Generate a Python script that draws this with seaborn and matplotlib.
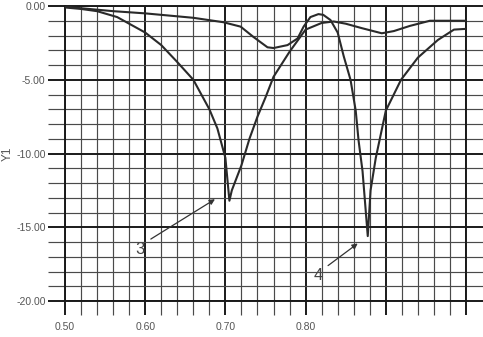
import matplotlib
matplotlib.use("Agg")
import matplotlib.pyplot as plt
import seaborn as sns
import pandas as pd
import numpy as np
from matplotlib.ticker import MultipleLocator, FixedFormatter, FixedLocator

# ---- data ----
curve3_x = [0.50, 0.52, 0.54, 0.565, 0.60, 0.62, 0.64, 0.66, 0.68, 0.69, 0.70, 0.705,
            0.708, 0.72, 0.73, 0.74, 0.75, 0.76, 0.78, 0.80, 0.82, 0.835, 0.85, 0.87,
            0.895, 0.91, 0.93, 0.955, 0.97, 1.00]
curve3_y = [-0.1, -0.2, -0.35, -0.75, -1.8, -2.65, -3.8, -5.0, -7.0, -8.3, -10.3, -13.2,
            -12.5, -10.8, -9.0, -7.5, -6.2, -4.8, -3.1, -1.6, -1.15, -1.05, -1.2, -1.5,
            -1.85, -1.7, -1.35, -1.0, -1.0, -1.0]

curve4_x = [0.50, 0.53, 0.56, 0.60, 0.62, 0.66, 0.6975, 0.719, 0.735, 0.7525, 0.76,
            0.7775, 0.79, 0.7975, 0.806, 0.816, 0.822, 0.831, 0.84, 0.8475, 0.856,
            0.8625, 0.866, 0.871, 0.8775, 0.881, 0.8875, 0.90, 0.919, 0.94, 0.965,
            0.985, 1.00]
curve4_y = [-0.05, -0.2, -0.35, -0.5, -0.6, -0.8, -1.1, -1.4, -2.1, -2.8, -2.85,
            -2.65, -2.2, -1.4, -0.75, -0.55, -0.6, -0.95, -1.8, -3.4, -5.0,
            -7.1, -9.1, -11.2, -15.6, -12.5, -10.3, -7.1, -5.0, -3.5, -2.3,
            -1.6, -1.55]

x_ticks = [0.50, 0.60, 0.70, 0.80, 0.90, 1.00]
x_labels = ["0.50", "0.60", "0.70", "0.80", "", ""]
y_ticks = [0.0, -5.0, -10.0, -15.0, -20.0]
y_labels = ["0.00", "-5.00", "-10.00", "-15.00", "-20.00"]

annot_labels = ["3", "4"]
annot_text_xy = [(0.594, -16.5), (0.816, -18.3)]
annot_tail_xy = [(0.607, -15.8), (0.828, -17.6)]
annot_head_xy = [(0.687, -13.1), (0.865, -16.1)]

df = pd.concat([
    pd.DataFrame({"x": curve3_x, "y": curve3_y, "curve": "3"}),
    pd.DataFrame({"x": curve4_x, "y": curve4_y, "curve": "4"}),
])

sns.set_style("white")
plt.rcParams["font.family"] = ["Liberation Sans", "DejaVu Sans"]

W, H = 483, 337
fig = plt.figure(figsize=(W / 100, H / 100), dpi=100)
ax = fig.add_axes([65 / W, 1 - 301 / H, (466 - 65) / W, (301 - 6) / H])
fig.patch.set_facecolor("white")
ax.set_facecolor("white")

sns.lineplot(data=df, x="x", y="y", hue="curve", palette=["#2a2a2a", "#2a2a2a"],
             sort=False, estimator=None, linewidth=1.5, legend=False, ax=ax, zorder=5)

ax.set_xlim(0.50, 1.00)
ax.set_ylim(-20, 0)

ax.xaxis.set_major_locator(FixedLocator(x_ticks))
ax.xaxis.set_major_formatter(FixedFormatter(x_labels))
ax.xaxis.set_minor_locator(MultipleLocator(0.02))
ax.yaxis.set_major_locator(FixedLocator(y_ticks))
ax.yaxis.set_major_formatter(FixedFormatter(y_labels))
ax.yaxis.set_minor_locator(MultipleLocator(1.0))

ax.grid(which="major", color="#1a1a1a", linewidth=1.4)
ax.grid(which="minor", color="#4a4a4a", linewidth=0.85)
ax.set_axisbelow(True)

for s in ax.spines.values():
    s.set_color("#1a1a1a")
    s.set_linewidth(1.4)

ax.tick_params(axis="y", which="major", left=True, right=True, length=12.5,
               width=1.4, color="#1a1a1a", labelsize=7.5, labelcolor="#555555", pad=1.5)
ax.tick_params(axis="y", which="minor", left=True, right=True, length=12.5,
               width=0.85, color="#4a4a4a")
ax.tick_params(axis="x", which="major", bottom=True, length=10, width=1.4,
               color="#1a1a1a", labelsize=7.5, labelcolor="#555555", pad=5)
ax.tick_params(axis="x", which="minor", bottom=True, length=10, width=0.85,
               color="#4a4a4a")

ax.set_xlabel("")
ax.set_ylabel("Y1", fontsize=8.5, color="#555555", labelpad=2)

for lab, t, tail, head in zip(annot_labels, annot_text_xy, annot_tail_xy, annot_head_xy):
    ax.annotate("", xy=head, xytext=tail,
                arrowprops=dict(arrowstyle="-|>", color="#333333", lw=0.9,
                                mutation_scale=8, shrinkA=0, shrinkB=0), zorder=6)
    ax.text(t[0], t[1], lab, fontsize=12, color="#444444", ha="center", va="center", zorder=6)

fig.savefig("out.png", dpi=100)
